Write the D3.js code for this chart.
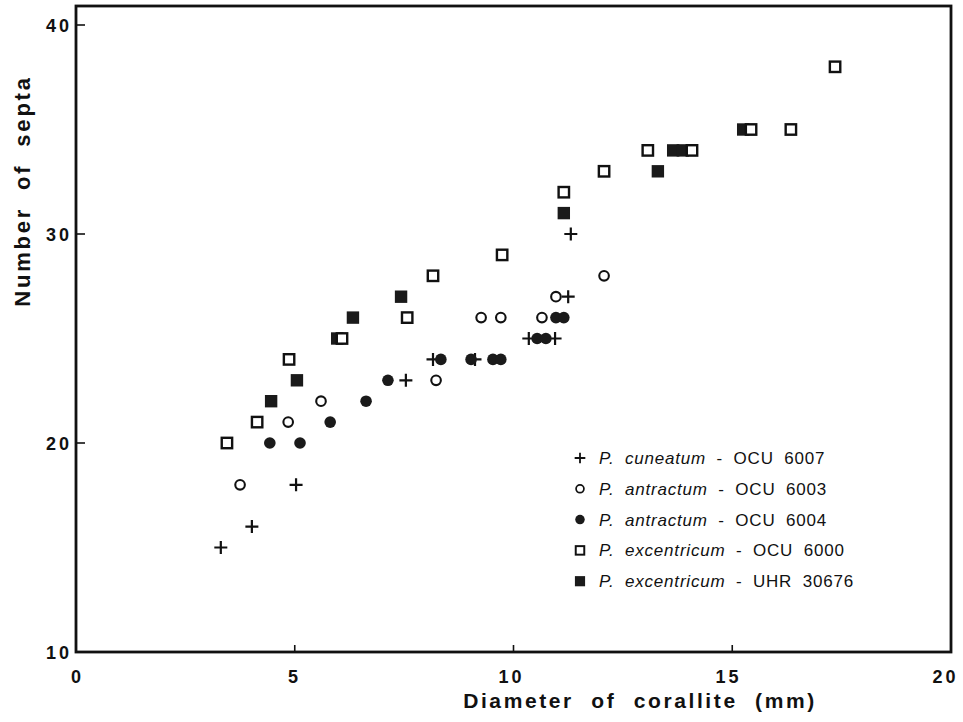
<!DOCTYPE html>
<html>
<head>
<meta charset="utf-8">
<script src="https://cdn.jsdelivr.net/npm/d3@7"></script>
<style>
  body { margin: 0; background: #fff; }
  svg { display: block; font-family: "Liberation Sans", Arial, Helvetica, sans-serif; }
  .tick-label { font-weight: bold; font-size: 18px; letter-spacing: 3px; fill: #111; }
  .axis-title { font-weight: bold; fill: #111; }
  .legend-text { font-size: 17px; letter-spacing: 0.8px; word-spacing: 5px; fill: #111; }
</style>
</head>
<body>
<svg width="963" height="722"></svg>
<script>
// P. cuneatum - OCU 6007 (+)
let cuneatumX = [3.31, 4.02, 5.03, 7.54, 8.16, 9.12, 10.35, 10.95, 11.25, 11.31];
let cuneatumY = [15, 16, 18, 23, 24, 24, 25, 25, 27, 30];
// P. antractum - OCU 6003 (open circle)
let antr6003X = [3.75, 4.85, 5.6, 8.23, 9.26, 9.71, 10.65, 10.97, 12.07];
let antr6003Y = [18, 21, 22, 23, 26, 26, 26, 27, 28];
// P. antractum - OCU 6004 (filled circle)
let antr6004X = [4.43, 5.12, 5.81, 6.63, 7.13, 8.34, 9.03, 9.53, 9.71, 10.54, 10.74, 10.97, 11.15];
let antr6004Y = [20, 20, 21, 22, 23, 24, 24, 24, 24, 25, 25, 26, 26];
// P. excentricum - OCU 6000 (open square)
let exc6000X = [3.45, 4.14, 4.87, 6.08, 7.57, 8.16, 9.74, 11.15, 12.07, 13.07, 14.08, 15.43, 16.34, 17.35];
let exc6000Y = [20, 21, 24, 25, 26, 28, 29, 32, 33, 34, 34, 35, 35, 38];
// P. excentricum - UHR 30676 (filled square)
let uhrX = [4.46, 5.05, 5.97, 6.33, 7.43, 11.15, 13.3, 13.65, 13.87, 15.25];
let uhrY = [22, 23, 25, 26, 27, 31, 33, 34, 34, 35];

let xTicks = [0, 5, 10, 15, 20];
let yTicks = [10, 20, 30, 40];

let legendItems = [
  { sym: 'cross', genus: 'P.', species: 'cuneatum', code: 'OCU 6007' },
  { sym: 'circleOpen', genus: 'P.', species: 'antractum', code: 'OCU 6003' },
  { sym: 'circleFilled', genus: 'P.', species: 'antractum', code: 'OCU 6004' },
  { sym: 'squareOpen', genus: 'P.', species: 'excentricum', code: 'OCU 6000' },
  { sym: 'squareFilled', genus: 'P.', species: 'excentricum', code: 'UHR 30676' }
];

let svg = d3.select('svg');

let x = d3.scaleLinear().domain([0, 20]).range([76, 951]);
let y = d3.scaleLinear().domain([10, 40]).range([652, 25]);
let frameTop = 6;

function zip(xs, ys) {
  return xs.map((v, i) => [v, ys[i]]);
}

// frame
svg.append('rect')
  .attr('x', x(0)).attr('y', frameTop)
  .attr('width', x(20) - x(0)).attr('height', y(10) - frameTop)
  .attr('fill', 'none').attr('stroke', '#111').attr('stroke-width', 2.8);

// inward ticks
svg.append('g').selectAll('line').data(xTicks.filter(d => d > 0 && d < 20)).join('line')
  .attr('x1', d => x(d)).attr('x2', d => x(d))
  .attr('y1', y(10)).attr('y2', y(10) - 7)
  .attr('stroke', '#111').attr('stroke-width', 1.6);
svg.append('g').selectAll('line').data(yTicks.filter(d => d > 10)).join('line')
  .attr('x1', x(0)).attr('x2', x(0) + 9)
  .attr('y1', d => y(d)).attr('y2', d => y(d))
  .attr('stroke', '#111').attr('stroke-width', 1.6);

// tick labels (the printed labels drift a little left of their ticks)
svg.append('g').selectAll('text').data(xTicks).join('text')
  .attr('class', 'tick-label')
  .attr('x', d => x(d) - d * 0.35 + 1.5).attr('y', 683)
  .attr('text-anchor', 'middle')
  .text(d => d);
svg.append('g').selectAll('text').data(yTicks).join('text')
  .attr('class', 'tick-label')
  .attr('x', 72).attr('y', d => y(d) + 6.5)
  .attr('text-anchor', 'end')
  .text(d => d);

// axis titles
svg.append('text').attr('class', 'axis-title')
  .attr('x', 640).attr('y', 708).attr('text-anchor', 'middle')
  .style('font-size', '21px').style('letter-spacing', '2.6px').style('word-spacing', '9px')
  .text('Diameter of corallite (mm)');
svg.append('text').attr('class', 'axis-title')
  .attr('transform', 'translate(30,191) rotate(-90)')
  .attr('text-anchor', 'middle')
  .style('font-size', '22px').style('letter-spacing', '2.8px').style('word-spacing', '8px')
  .text('Number of septa');

// marker drawing
function drawMarker(g, sym) {
  if (sym === 'cross') {
    g.append('path').attr('d', 'M-6.5,0H6.5M0,-6.5V6.5')
      .attr('stroke', '#111').attr('stroke-width', 2.2).attr('fill', 'none');
  } else if (sym === 'circleOpen') {
    g.append('circle').attr('r', 4.8)
      .attr('fill', '#fff').attr('stroke', '#111').attr('stroke-width', 2.1);
  } else if (sym === 'circleFilled') {
    g.append('circle').attr('r', 5.8).attr('fill', '#1a1a1a');
  } else if (sym === 'squareOpen') {
    g.append('rect').attr('x', -5.2).attr('y', -5.2).attr('width', 10.4).attr('height', 10.4)
      .attr('fill', '#fff').attr('stroke', '#111').attr('stroke-width', 2.4);
  } else if (sym === 'squareFilled') {
    g.append('rect').attr('x', -6.2).attr('y', -6.2).attr('width', 12.4).attr('height', 12.4)
      .attr('fill', '#1a1a1a');
  }
}

function drawSeries(points, sym) {
  svg.append('g').selectAll('g').data(points).join('g')
    .attr('transform', d => `translate(${x(d[0])},${y(d[1])})`)
    .each(function () { drawMarker(d3.select(this), sym); });
}

drawSeries(zip(uhrX, uhrY), 'squareFilled');
drawSeries(zip(exc6000X, exc6000Y), 'squareOpen');
drawSeries(zip(cuneatumX, cuneatumY), 'cross');
drawSeries(zip(antr6003X, antr6003Y), 'circleOpen');
drawSeries(zip(antr6004X, antr6004Y), 'circleFilled');

// legend
let legend = svg.append('g').attr('transform', 'translate(580,458)');
let rows = legend.selectAll('g').data(legendItems).join('g')
  .attr('transform', (d, i) => `translate(0,${i * 30.8})`);
rows.each(function (d) {
  let g = d3.select(this);
  let m = g.append('g');
  drawMarker(m, d.sym);
  m.attr('transform', 'scale(0.82)');
  let t = g.append('text').attr('class', 'legend-text').attr('x', 19).attr('y', 6);
  t.append('tspan').attr('font-style', 'italic').text(d.genus + ' ' + d.species);
  t.append('tspan').text(' - ' + d.code);
});
</script>
</body>
</html>
